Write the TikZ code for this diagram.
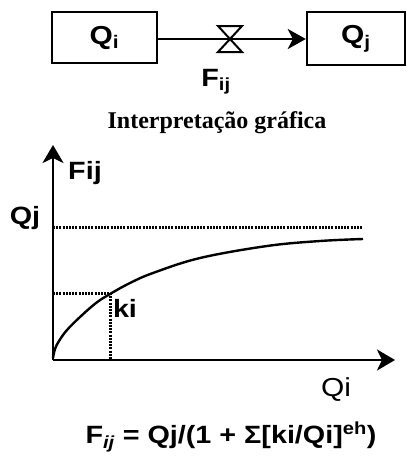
\documentclass[tikz,border=0pt]{standalone}
\usepackage{fontspec}
\setmainfont{Liberation Serif}
\setsansfont{Liberation Sans}
\newfontfamily\wsans[FakeStretch=1.15]{Liberation Sans}
\usetikzlibrary{arrows.meta,calc}
\tikzset{
  boxst/.style={draw, line width=2.4pt, minimum width=105pt, minimum height=51pt, inner sep=0pt, font=\wsans\bfseries\fontsize{26}{28}\selectfont},
  lbl/.style={inner sep=0pt, font=\wsans\bfseries\fontsize{25}{28}\selectfont},
  axis/.style={line width=2.6pt, -{Stealth[length=18pt,width=21pt,inset=5pt]}},
  dots/.style={line width=3pt, dash pattern=on 2pt off 1.2pt},
  flow/.style={line width=2.2pt, -{Stealth[length=18pt,width=20pt,inset=5pt]}}
}
\begin{document}
\begin{tikzpicture}[x=1pt,y=-1pt]
\useasboundingbox (0,0) rectangle (407,459);
% top stock-flow diagram
\node[boxst] (qi) at (104.5,37.5) {Q\textsubscript{i}};
\node[boxst, minimum width=98pt, minimum height=53pt] (qj) at (356,38.5) {Q\textsubscript{j}};
\coordinate (v) at (230,39);
\draw[flow] (qi.east |- v) -- (qj.west |- v);
\draw[line width=2pt, line join=miter, fill=white] ($(v)+(-12,-13)$) -- ($(v)+(12,-13)$) -- ($(v)+(-12,13)$) -- ($(v)+(12,13)$) -- cycle;
\node[lbl] (fij) at (216,82) {F\textsubscript{ij}};
\node[inner sep=0pt, font=\bfseries\fontsize{24}{26}\selectfont] (title) at (217,123) {Interpretação gráfica};
% graph
\coordinate (o) at (53,360);
\coordinate (ytop) at (53,145);
\coordinate (xend) at (395,360);
\draw[axis] (o) -- (ytop);
\draw[axis] (o) -- (xend);
\coordinate (qjl) at (53,227);
\coordinate (qjr) at (362,227);
\draw[dots] (qjl) -- (qjr);
\coordinate (kp) at (110,293);
\coordinate (kx) at (110,360);
\coordinate (ky) at (53,293);
\draw[dots] (ky) -- (kp);
\draw[dots] (kp) -- (kx);
\draw[line width=2.4pt] plot[smooth, tension=0.6] coordinates {(53,358) (55,349) (59,341) (67,330) (80,317) (96,303) (110,294) (130,283) (153,273) (200,258) (267,246) (320,241) (363,239)};
\node[lbl] (fijl) at (85,173) {Fij};
\node[lbl] (qjt) at (25,218) {Qj};
\node[lbl] (ki) at (125,308) {ki};
\node[inner sep=0pt, font=\wsans\fontsize{26}{28}\selectfont] (qit) at (336,390) {Qi};
\node[lbl] (formula) at (231,437) {F\textsubscript{\itshape ij} = Qj/(1 + Σ[ki/Qi]\textsuperscript{eh})};
\end{tikzpicture}
\end{document}
